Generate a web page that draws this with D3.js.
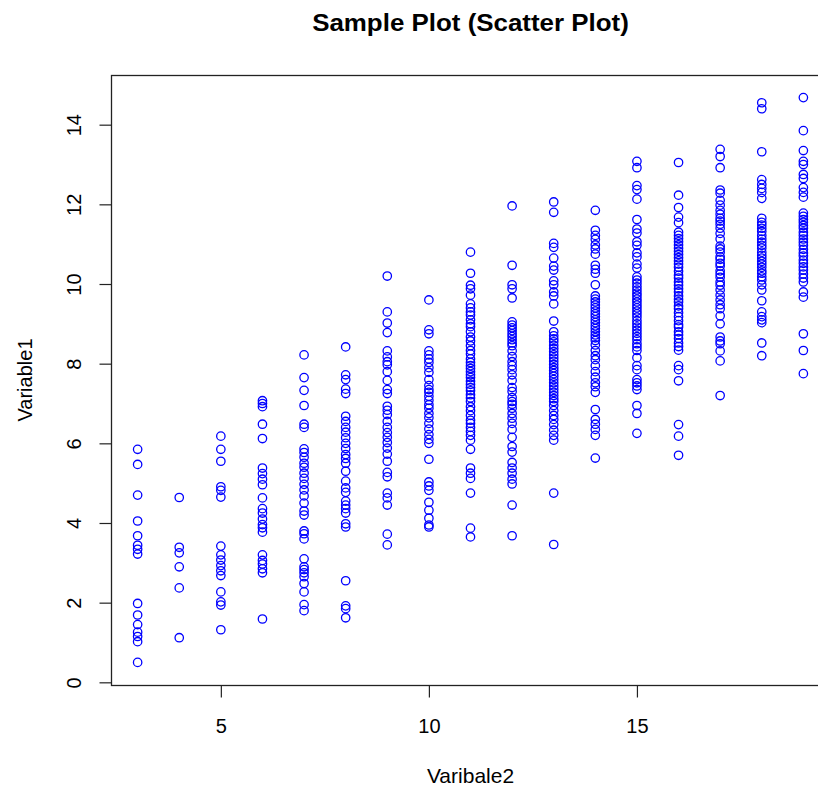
<!DOCTYPE html>
<html>
<head>
<meta charset="utf-8">
<script src="https://cdn.jsdelivr.net/npm/d3@7"></script>
<style>
  html, body { margin: 0; padding: 0; background: #fff; }
  svg { display: block; }
  text { font-family: "Liberation Sans", Arial, sans-serif; fill: #000; }
</style>
</head>
<body>
<svg id="chart" width="818" height="787"></svg>
<script>
// ---- Data ----
const title = "Sample Plot (Scatter Plot)";
const xLabel = "Varibale2";
const yLabel = "Variable1";
const xTicks = [5, 10, 15];
const yTicks = [0, 2, 4, 6, 8, 10, 12, 14];

const variable2Levels = [3, 4, 5, 6, 7, 8, 9, 10, 11, 12, 13, 14, 15, 16, 17, 18, 19];

const v1At3 = [5.85, 5.47, 4.7, 4.05, 3.68, 3.44, 3.34, 3.22, 1.98, 1.69, 1.45, 1.26, 1.15, 1.02, 0.5];
const v1At4 = [4.64, 3.39, 3.25, 2.9, 2.37, 1.12];
const v1At5 = [6.18, 5.85, 5.55, 4.91, 4.82, 4.65, 3.42, 3.2, 3.07, 2.93, 2.8, 2.68, 2.27, 2.02, 1.94, 1.32];
const v1At6 = [7.07, 7.0, 6.92, 6.48, 6.12, 5.38, 5.24, 5.1, 4.96, 4.63, 4.36, 4.25, 4.1, 3.96, 3.88, 3.77, 3.2, 3.06, 2.97, 2.85, 2.75, 1.59];
const v1At7 = [8.22, 7.65, 7.33, 6.95, 6.48, 6.4, 5.86, 5.77, 5.65, 5.5, 5.4, 5.25, 5.12, 4.97, 4.83, 4.68, 4.5, 4.3, 4.2, 3.8, 3.73, 3.6, 3.1, 2.9, 2.83, 2.75, 2.65, 2.48, 2.27, 1.95, 1.8];
const v1At8 = [8.42, 7.72, 7.6, 7.36, 7.25, 6.68, 6.55, 6.4, 6.28, 6.14, 6.0, 5.87, 5.72, 5.62, 5.5, 5.3, 5.05, 4.88, 4.77, 4.55, 4.45, 4.36, 4.25, 3.98, 3.9, 2.55, 1.92, 1.85, 1.62];
const v1At9 = [10.2, 9.3, 9.02, 8.78, 8.32, 8.17, 8.05, 7.97, 7.8, 7.58, 7.35, 7.25, 6.93, 6.83, 6.72, 6.55, 6.4, 6.27, 6.15, 6.02, 5.88, 5.73, 5.55, 5.27, 5.16, 4.75, 4.63, 4.45, 3.72, 3.45];
const v1At10 = [9.6, 8.85, 8.75, 8.32, 8.22, 8.12, 8.03, 7.9, 7.78, 7.6, 7.45, 7.35, 7.28, 7.18, 7.08, 6.97, 6.88, 6.75, 6.64, 6.5, 6.36, 6.22, 6.1, 6.0, 5.6, 5.03, 4.93, 4.82, 4.52, 4.32, 4.12, 3.95, 3.9];
const v1At11 = [10.8, 10.27, 9.97, 9.88, 9.72, 9.5, 9.4, 9.3, 9.22, 9.1, 9.0, 8.93, 8.8, 8.67, 8.57, 8.45, 8.33, 8.24, 8.12, 8.03, 7.95, 7.88, 7.8, 7.72, 7.65, 7.56, 7.48, 7.4, 7.32, 7.22, 7.14, 7.05, 6.92, 6.82, 6.7, 6.58, 6.5, 6.4, 6.3, 6.2, 6.08, 5.85, 5.38, 5.25, 5.12, 4.75, 3.87, 3.65];
const v1At12 = [11.96, 10.47, 9.98, 9.88, 9.65, 9.05, 8.97, 8.9, 8.83, 8.75, 8.68, 8.6, 8.52, 8.45, 8.32, 8.18, 8.05, 7.95, 7.85, 7.72, 7.58, 7.4, 7.3, 7.15, 7.05, 6.98, 6.88, 6.75, 6.63, 6.5, 6.35, 6.15, 5.92, 5.78, 5.52, 5.38, 5.25, 5.1, 4.98, 4.45, 3.68];
const v1At13 = [12.06, 11.8, 11.02, 10.92, 10.65, 10.45, 10.35, 10.08, 9.98, 9.8, 9.7, 9.5, 9.07, 8.8, 8.7, 8.62, 8.55, 8.46, 8.38, 8.3, 8.22, 8.14, 8.06, 7.98, 7.9, 7.83, 7.75, 7.68, 7.6, 7.52, 7.44, 7.36, 7.28, 7.2, 7.12, 7.05, 6.95, 6.82, 6.7, 6.6, 6.47, 6.33, 6.2, 6.08, 4.75, 3.46];
const v1At14 = [11.85, 11.35, 11.22, 11.12, 10.98, 10.88, 10.75, 10.47, 10.37, 10.27, 9.98, 9.7, 9.62, 9.55, 9.47, 9.4, 9.32, 9.25, 9.18, 9.1, 9.03, 8.95, 8.88, 8.8, 8.72, 8.65, 8.58, 8.47, 8.33, 8.2, 8.1, 7.95, 7.8, 7.66, 7.52, 7.42, 7.28, 6.85, 6.6, 6.48, 6.35, 6.2, 5.63];
const v1At15 = [13.08, 12.92, 12.47, 12.37, 12.13, 11.62, 11.38, 11.28, 11.06, 10.97, 10.78, 10.68, 10.5, 10.4, 10.18, 10.1, 10.02, 9.93, 9.85, 9.77, 9.7, 9.62, 9.55, 9.47, 9.4, 9.32, 9.25, 9.17, 9.08, 9.0, 8.92, 8.84, 8.76, 8.68, 8.6, 8.5, 8.42, 8.33, 8.15, 7.95, 7.85, 7.6, 7.52, 7.44, 7.35, 6.95, 6.75, 6.25];
const v1At16 = [13.05, 12.23, 11.92, 11.68, 11.54, 11.3, 11.22, 11.14, 11.06, 10.98, 10.9, 10.82, 10.74, 10.66, 10.58, 10.5, 10.42, 10.32, 10.22, 10.15, 10.05, 9.97, 9.88, 9.8, 9.7, 9.62, 9.55, 9.45, 9.38, 9.28, 9.18, 9.08, 8.98, 8.92, 8.8, 8.72, 8.63, 8.52, 8.43, 8.34, 7.95, 7.85, 7.57, 6.47, 6.18, 5.7];
const v1At17 = [13.38, 13.2, 12.92, 12.36, 12.28, 12.1, 11.98, 11.85, 11.75, 11.65, 11.58, 11.5, 11.4, 11.27, 11.13, 10.95, 10.88, 10.8, 10.68, 10.62, 10.52, 10.45, 10.33, 10.25, 10.17, 10.05, 9.97, 9.85, 9.72, 9.6, 9.48, 9.38, 9.2, 9.0, 8.67, 8.57, 8.5, 8.32, 8.07, 7.2];
const v1At18 = [14.55, 14.4, 13.32, 12.62, 12.5, 12.4, 12.3, 12.15, 11.65, 11.55, 11.48, 11.4, 11.32, 11.22, 11.13, 11.05, 10.97, 10.9, 10.8, 10.72, 10.65, 10.57, 10.5, 10.42, 10.33, 10.27, 10.18, 10.1, 9.98, 9.85, 9.58, 9.3, 9.18, 9.1, 9.03, 8.52, 8.2];
const v1At19 = [14.68, 13.85, 13.35, 13.08, 13.0, 12.75, 12.65, 12.42, 12.3, 12.18, 11.78, 11.7, 11.62, 11.55, 11.47, 11.4, 11.3, 11.22, 11.13, 11.05, 10.97, 10.87, 10.78, 10.7, 10.6, 10.52, 10.43, 10.35, 10.25, 10.15, 10.05, 9.8, 9.67, 8.75, 8.33, 7.75];

const variable1ByLevel = [v1At3, v1At4, v1At5, v1At6, v1At7, v1At8, v1At9, v1At10, v1At11, v1At12, v1At13, v1At14, v1At15, v1At16, v1At17, v1At18, v1At19];

// Build point table
const points = [];
variable2Levels.forEach((lv, i) => {
  variable1ByLevel[i].forEach(v => points.push({ x: lv, y: v }));
});

// ---- Layout ----
const svg = d3.select("#chart");
const box = { left: 111, top: 75, right: 830, bottom: 685 };

// R-style 4% extension of data range
const xExt = d3.extent(points, d => d.x);
const yExt = d3.extent(points, d => d.y);
const xPad = (xExt[1] - xExt[0]) * 0.04;
const yPad = (yExt[1] - yExt[0]) * 0.04;

const x = d3.scaleLinear().domain([xExt[0] - xPad, xExt[1] + xPad]).range([box.left, box.right]);
const y = d3.scaleLinear().domain([yExt[0] - yPad, yExt[1] + yPad]).range([box.bottom, box.top]);

// Points
svg.append("g")
  .selectAll("circle")
  .data(points)
  .join("circle")
  .attr("cx", d => x(d.x))
  .attr("cy", d => y(d.y))
  .attr("r", 4.2)
  .attr("fill", "none")
  .attr("stroke", "#0000ff")
  .attr("stroke-width", 1.3);

// Box
svg.append("rect")
  .attr("x", box.left + 0.5)
  .attr("y", box.top + 0.5)
  .attr("width", box.right - box.left)
  .attr("height", box.bottom - box.top)
  .attr("fill", "none")
  .attr("stroke", "#222")
  .attr("stroke-width", 1.3);

// X axis
const xAxis = d3.axisBottom(x).tickValues(xTicks).tickSize(12).tickSizeOuter(0).tickPadding(8);
const gx = svg.append("g").attr("transform", `translate(0,${box.bottom + 0.5})`).call(xAxis);
gx.select(".domain").remove();
gx.selectAll(".tick line").attr("stroke", "#222").attr("stroke-width", 1.2);
gx.selectAll(".tick text")
  .attr("font-size", 20)
  .attr("font-family", "Liberation Sans, Arial, sans-serif")
  .attr("fill", "#111")
  .attr("dy", "0.71em")
  .attr("y", 33);

// Y axis
const yAxis = d3.axisLeft(y).tickValues(yTicks).tickSize(12).tickSizeOuter(0);
const gy = svg.append("g").attr("transform", `translate(${box.left + 0.5},0)`).call(yAxis);
gy.select(".domain").remove();
gy.selectAll(".tick line").attr("stroke", "#222").attr("stroke-width", 1.2);
gy.selectAll(".tick text")
  .attr("font-size", 20)
  .attr("font-family", "Liberation Sans, Arial, sans-serif")
  .attr("fill", "#111")
  .attr("x", null).attr("dy", null)
  .attr("text-anchor", "middle")
  .attr("transform", "translate(-31,0) rotate(-90)");

// Title
svg.append("text")
  .attr("transform", `translate(${(box.left + box.right) / 2},31) scale(1.08,1)`)
  .attr("text-anchor", "middle")
  .attr("font-size", 24)
  .attr("font-weight", "bold")
  .text(title);

// X label
svg.append("text")
  .attr("transform", `translate(${(box.left + box.right) / 2},783) scale(1.05,1)`)
  .attr("text-anchor", "middle")
  .attr("font-size", 20)
  .attr("fill", "#111")
  .text(xLabel);

// Y label
svg.append("text")
  .attr("transform", `translate(32,${(box.top + box.bottom) / 2}) rotate(-90)`)
  .attr("text-anchor", "middle")
  .attr("font-size", 20)
  .attr("fill", "#111")
  .text(yLabel);
</script>
</body>
</html>
